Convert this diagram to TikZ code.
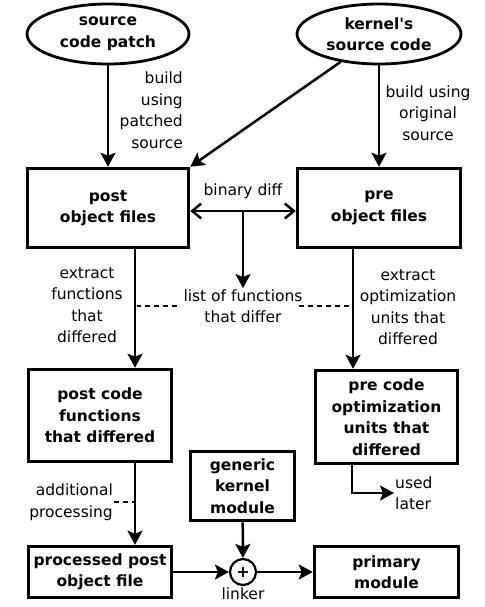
\documentclass[tikz,border=0pt]{standalone}
\usepackage{fontspec}
\setmainfont{DejaVu Sans}[Ligatures=TeXOff]
\usetikzlibrary{shapes.geometric, arrows.meta, positioning}

\tikzset{
  txt/.style={font=\fontsize{15.5}{21.5}\selectfont, align=center, inner sep=1pt},
  box/.style={draw, line width=3.5pt, align=center, inner sep=0pt, font=\bfseries\fontsize{15.5}{21.5}\selectfont},
  blob/.style={draw, ellipse, line width=2.8pt, inner sep=0pt, align=center, font=\bfseries\fontsize{15.5}{21.5}\selectfont},
  arr/.style={line width=2.5pt, -{Stealth[length=14pt,width=15pt,inset=3pt]}},
  dsh/.style={line width=2.5pt, dash pattern=on 5pt off 4pt}
}

\begin{document}
\begin{tikzpicture}[x=1pt, y=-1pt]
  \useasboundingbox (0,0) rectangle (484,607);
  \node[blob, minimum width=162, minimum height=60](patch) at (108,34){source\\code patch};
  \node[blob, minimum width=164, minimum height=60](kern) at (379,34){kernel's\\source code};
  \node[box, minimum width=161, minimum height=79](post) at (108,208){post\\object files};
  \node[box, minimum width=163, minimum height=79](pre) at (379,208){pre\\object files};
  \node[box, minimum width=143, minimum height=92](postcode) at (100,415.5){post code\\functions\\that differed};
  \node[box, minimum width=142, minimum height=93](precode) at (386.5,417){pre code\\optimization\\units that\\differed};
  \node[box, minimum width=104, minimum height=69](generic) at (242.5,486){generic\\kernel\\module};
  \node[box, minimum width=143, minimum height=51](processed) at (100,572){processed post\\object file};
  \node[box, minimum width=144, minimum height=51](primary) at (386.5,572){primary\\module};
  \node[draw, circle, line width=2.2pt, minimum size=26, inner sep=0pt, font=\bfseries\fontsize{16}{16}\selectfont](link) at (243,572){+};
  \node[txt, below=0pt of link](linker){linker};
  \node[txt, align=right, anchor=east](lpatch) at (184,110){build\\using\\patched\\source};
  \node[txt](lorig) at (428,113){build using\\original\\source};
  \node[txt](lbin) at (243,191){binary diff};
  \node[txt](difflist) at (243,306){list of functions\\that differ};
  \node[txt](lpost) at (87,305){extract\\functions\\that\\differed};
  \node[txt](lpre) at (408,307){extract\\optimization\\units that\\differed};
  \node[txt, align=left, anchor=west](used) at (394,493){used\\later};
  \node[txt, align=right, anchor=east](addproc) at (114,502){additional\\processing};
  \coordinate(bd) at (243,211);
  \coordinate(pdn) at (135,0);
  \coordinate(rdn) at (353,0);
  \draw[arr](patch)--(post);
  \draw[arr](kern.216)--(post.north east);
  \draw[arr](kern)--(pre);
  \draw[line width=2.5pt, {Straight Barb[length=9pt,width=15pt]}-{Straight Barb[length=9pt,width=15pt]}](post.east |- bd)--(pre.west |- bd);
  \draw[arr](bd)--(difflist.north);
  \draw[arr](post.south -| pdn)--(postcode.north -| pdn);
  \draw[arr](pre.south -| rdn)--(precode.north -| rdn);
  \draw[dsh]([xshift=-5pt]difflist.west)--([xshift=2pt]difflist.west -| pdn);
  \draw[dsh]([xshift=-5pt]difflist.east)--(difflist.east -| rdn);
  \draw[arr](postcode.south -| pdn)--(processed.north -| pdn);
  \draw[dsh](addproc.east)--(addproc.east -| pdn);
  \draw[arr](precode.south -| 352,0)|-(used.west);
  \draw[arr](generic)--(link);
  \draw[arr](processed)--(link);
  \draw[arr](link)--(primary);
\end{tikzpicture}
\end{document}
